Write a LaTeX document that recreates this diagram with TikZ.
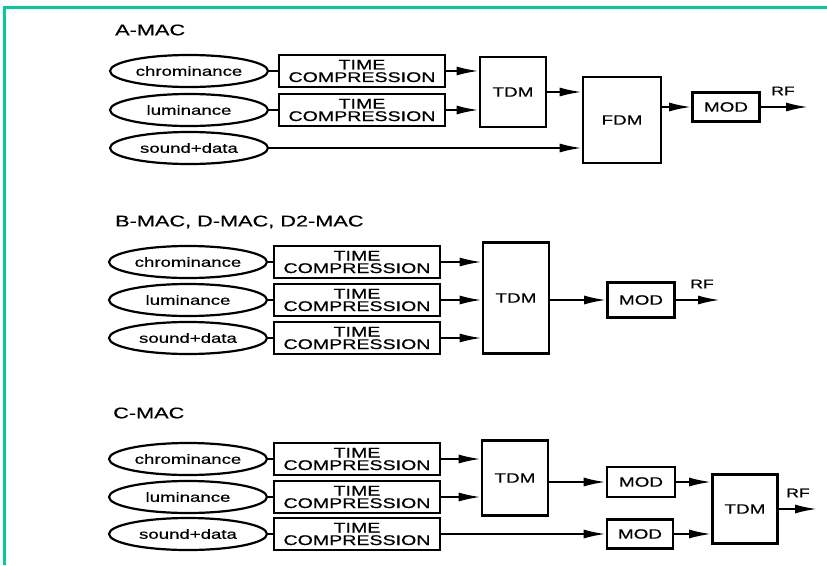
\documentclass[tikz,border=0pt]{standalone}
\usepackage{fontspec}
\setmainfont{Liberation Sans}[FakeStretch=1.4, FakeBold=0.6]
\usetikzlibrary{shapes.geometric,arrows.meta}
\definecolor{framegreen}{RGB}{0,205,155}

\begin{document}
\begin{tikzpicture}[
    x=1pt, y=-1pt,
    source/.style={ellipse, draw, line width=2.2pt, minimum width=158pt, minimum height=32pt, inner sep=0pt, font=\fontsize{13.3}{14}\selectfont},
    comp/.style={rectangle, draw, line width=2.6pt, minimum width=166pt, minimum height=32pt, inner sep=0pt, align=center, font=\fontsize{14}{12.5}\selectfont},
    block/.style={rectangle, draw, line width=2.6pt, inner sep=0pt, font=\fontsize{13.5}{14}\selectfont},
    title/.style={anchor=west, inner sep=0pt, font=\fontsize{15.5}{16}\selectfont},
    rf/.style={inner sep=0pt, font=\fontsize{12.5}{13}\selectfont},
    link/.style={line width=2pt},
    feed/.style={line width=2pt, -{Latex[length=22pt,width=9pt]}}
]
\useasboundingbox (0,0) rectangle (827,565);

% Frame
\draw[framegreen, line width=3pt] (4,565) -- (4,7) -- (827,7);

% A-MAC
\node[title] (tA) at (115,30) {A-MAC};
\node[source] (eA1) at (189,71) {chrominance};
\node[source] (eA2) at (189,110) {luminance};
\node[source] (eA3) at (189,148) {sound+data};
\node[comp] (cA1) at (362,71) {TIME\\COMPRESSION};
\node[comp] (cA2) at (362,110) {TIME\\COMPRESSION};
\node[block, minimum width=66pt, minimum height=70pt] (tdmA) at (513,92) {TDM};
\node[block, minimum width=78pt, minimum height=86pt] (fdmA) at (622,120) {FDM};
\node[block, minimum width=67pt, minimum height=29pt] (modA) at (726,107) {MOD};
\coordinate (rfA) at (808,107);
\node[rf] (lA) at (783,91) {RF};

\draw[link] (eA1) -- (cA1);
\draw[link] (eA2) -- (cA2);
\draw[feed] (cA1.east) -- (cA1.east -| tdmA.west);
\draw[feed] (cA2.east) -- (cA2.east -| tdmA.west);
\draw[feed] (tdmA.east) -- (tdmA.east -| fdmA.west);
\draw[feed] (eA3.east) -- (eA3.east -| fdmA.west);
\draw[feed] (fdmA.east |- modA.west) -- (modA.west);
\draw[feed] (modA.east) -- (rfA);

% B-MAC, D-MAC, D2-MAC
\node[title] (tB) at (115,222) {B-MAC, D-MAC, D2-MAC};
\node[source] (eB1) at (188,262) {chrominance};
\node[source] (eB2) at (188,300) {luminance};
\node[source] (eB3) at (188,338) {sound+data};
\node[comp] (cB1) at (357,262) {TIME\\COMPRESSION};
\node[comp] (cB2) at (357,300) {TIME\\COMPRESSION};
\node[comp] (cB3) at (357,338) {TIME\\COMPRESSION};
\node[block, minimum width=66pt, minimum height=111pt] (tdmB) at (516,298) {TDM};
\node[block, minimum width=67pt, minimum height=35pt] (modB) at (641,300) {MOD};
\coordinate (rfB) at (720,300);
\node[rf] (lB) at (702,284) {RF};

\draw[link] (eB1) -- (cB1);
\draw[link] (eB2) -- (cB2);
\draw[link] (eB3) -- (cB3);
\draw[feed] (cB1.east) -- (cB1.east -| tdmB.west);
\draw[feed] (cB2.east) -- (cB2.east -| tdmB.west);
\draw[feed] (cB3.east) -- (cB3.east -| tdmB.west);
\draw[feed] (tdmB.east |- modB.west) -- (modB.west);
\draw[feed] (modB.east) -- (rfB);

% C-MAC
\node[title] (tC) at (113,413) {C-MAC};
\node[source] (eC1) at (188,459) {chrominance};
\node[source] (eC2) at (188,497) {luminance};
\node[source] (eC3) at (188,534) {sound+data};
\node[comp] (cC1) at (357,459) {TIME\\COMPRESSION};
\node[comp] (cC2) at (357,497) {TIME\\COMPRESSION};
\node[comp] (cC3) at (357,534) {TIME\\COMPRESSION};
\node[block, minimum width=66pt, minimum height=75pt] (tdmC1) at (515,478) {TDM};
\node[block, minimum width=68pt, minimum height=30pt] (modC1) at (641,482) {MOD};
\node[block, minimum width=66pt, minimum height=29pt] (modC2) at (640,534) {MOD};
\node[block, minimum width=65pt, minimum height=69pt] (tdmC2) at (745,509) {TDM};
\coordinate (rfC) at (817,509);
\node[rf] (lC) at (798,493) {RF};

\draw[link] (eC1) -- (cC1);
\draw[link] (eC2) -- (cC2);
\draw[link] (eC3) -- (cC3);
\draw[feed] (cC1.east) -- (cC1.east -| tdmC1.west);
\draw[feed] (cC2.east) -- (cC2.east -| tdmC1.west);
\draw[feed] (tdmC1.east |- modC1.west) -- (modC1.west);
\draw[feed] (cC3.east) -- (modC2.west);
\draw[feed] (modC1.east) -- (modC1.east -| tdmC2.west);
\draw[feed] (modC2.east) -- (modC2.east -| tdmC2.west);
\draw[feed] (tdmC2.east) -- (rfC);

\end{tikzpicture}
\end{document}
